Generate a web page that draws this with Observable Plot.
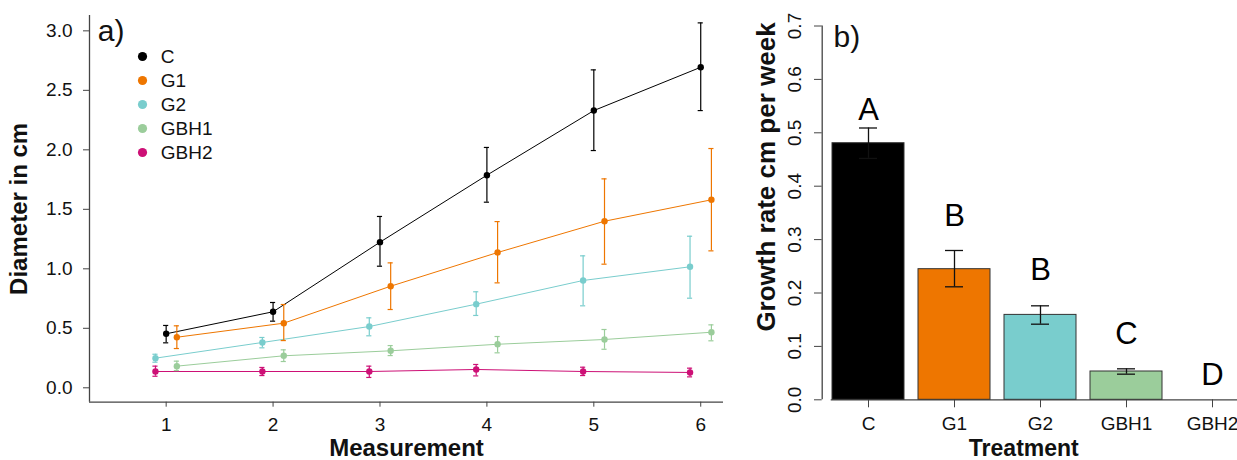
<!DOCTYPE html>
<html><head><meta charset="utf-8">
<script src="https://cdn.jsdelivr.net/npm/d3@7"></script>
<script src="https://cdn.jsdelivr.net/npm/@observablehq/plot@0.6"></script>
<style>
body{margin:0;background:#fff;}
#wrap{position:relative;width:1237px;height:460px;overflow:hidden;background:#fff;font-family:"Liberation Sans",Arial,sans-serif;}
#left{position:absolute;left:0;top:0;width:740px;}
#legend{position:absolute;left:136.7px;top:44.3px;width:150px;}
#right{position:absolute;left:740px;top:0;width:530px;}
svg{max-width:none !important;}
</style></head><body>
<div id="wrap"><div id="left"></div><div id="legend"></div><div id="right"></div></div>
<script>
// ---------- data: panel a) ----------
const measurement = [1, 2, 3, 4, 5, 6];
const series = ["C", "G1", "G2", "GBH1", "GBH2"];
const seriesColors = ["#000000", "#EE7600", "#79CDCD", "#9BCD9B", "#CD1076"];

const meanC    = [0.454, 0.639, 1.224, 1.787, 2.330, 2.694];
const loC      = [0.378, 0.560, 1.022, 1.560, 1.994, 2.330];
const hiC      = [0.524, 0.717, 1.440, 2.020, 2.672, 3.067];

const meanG1   = [0.425, 0.543, 0.854, 1.137, 1.400, 1.580];
const loG1     = [0.330, 0.397, 0.658, 0.882, 1.039, 1.151];
const hiG1     = [0.521, 0.700, 1.050, 1.397, 1.756, 2.011];

const meanG2   = [0.249, 0.381, 0.515, 0.703, 0.902, 1.017];
const loG2     = [0.215, 0.336, 0.437, 0.608, 0.689, 0.753];
const hiG2     = [0.282, 0.423, 0.588, 0.807, 1.109, 1.274];

const meanGBH1 = [0.182, 0.269, 0.311, 0.366, 0.406, 0.467];
const loGBH1   = [0.145, 0.221, 0.271, 0.294, 0.324, 0.395];
const hiGBH1   = [0.224, 0.319, 0.355, 0.431, 0.490, 0.529];

const meanGBH2 = [0.137, 0.137, 0.137, 0.154, 0.137, 0.129];
const loGBH2   = [0.097, 0.103, 0.087, 0.100, 0.103, 0.092];
const hiGBH2   = [0.182, 0.171, 0.182, 0.196, 0.173, 0.165];

const yTicksA = [0, 0.5, 1, 1.5, 2, 2.5, 3];

// ---------- data: panel b) ----------
const treatments = ["C", "G1", "G2", "GBH1", "GBH2"];
const barColors  = ["#000000", "#EE7600", "#79CDCD", "#9BCD9B", "#CD1076"];
const growth     = [0.4805, 0.2446, 0.159, 0.053, 0];
const growthLo   = [0.452, 0.2116, 0.1416, 0.048, 0];
const growthHi   = [0.509, 0.2796, 0.176, 0.058, 0];
const letters    = ["A", "B", "B", "C", "D"];
const letterY    = [0.524, 0.3264, 0.2247, 0.1049, 0.0268];
const yTicksB    = [0, 0.1, 0.2, 0.3, 0.4, 0.5, 0.6, 0.7];

// ---------- build tables ----------
const dodge = {C: 0, G1: 0.1, G2: -0.1, GBH1: 0.1, GBH2: -0.1};
const tables = {
  C: [meanC, loC, hiC], G1: [meanG1, loG1, hiG1], G2: [meanG2, loG2, hiG2],
  GBH1: [meanGBH1, loGBH1, hiGBH1], GBH2: [meanGBH2, loGBH2, hiGBH2]
};
const rows = series.flatMap(s => measurement.map((m, i) => ({
  series: s, x: m + dodge[s], mean: tables[s][0][i], lo: tables[s][1][i], hi: tables[s][2][i]
})));
const bars = treatments.map((t, i) => ({t, v: growth[i], lo: growthLo[i], hi: growthHi[i], letter: letters[i], ly: letterY[i]}));
const errBars = bars.filter(d => d.hi > d.lo);

const FONT = '"Liberation Sans", Arial, sans-serif';
const AX = "#444";
const cap = 0.024;
const baseStyle = {fontFamily: FONT, background: "transparent", overflow: "visible", color: "#111", maxWidth: "none"};

// ---------- panel a ----------
const xDom = [0.283, 6.213], yDom = [-0.121, 3.129];
const left = Plot.plot({
  width: 740, height: 460,
  marginLeft: 89, marginRight: 17, marginTop: 15, marginBottom: 58.3,
  x: {domain: xDom}, y: {domain: yDom},
  color: {domain: series, range: seriesColors},
  style: baseStyle,
  marks: [
    Plot.ruleX([xDom[0]], {stroke: AX, strokeWidth: 1.3}),
    Plot.ruleY([yDom[0]], {stroke: AX, strokeWidth: 1.3}),
    Plot.axisY({ticks: yTicksA, tickFormat: d3.format(".1f"), tickSize: 6, tickPadding: 11, fontSize: 19, label: null, stroke: AX}),
    Plot.axisX({ticks: measurement, tickFormat: d3.format("d"), tickSize: 5, tickPadding: 10, fontSize: 19, label: null, stroke: AX}),
    Plot.line(rows, {x: "x", y: "mean", z: "series", stroke: "series", strokeWidth: 1}),
    Plot.ruleX(rows, {x: "x", y1: "lo", y2: "hi", stroke: "series", strokeWidth: 1.2}),
    Plot.ruleY(rows, {y: "lo", x1: d => d.x - cap, x2: d => d.x + cap, stroke: "series", strokeWidth: 1.2}),
    Plot.ruleY(rows, {y: "hi", x1: d => d.x - cap, x2: d => d.x + cap, stroke: "series", strokeWidth: 1.2}),
    Plot.dot(rows, {x: "x", y: "mean", fill: "series", r: 3.2}),
    Plot.text(["a)"], {text: d => d, frameAnchor: "top-left", dx: 8.3, dy: 25.7, lineAnchor: "bottom", textAnchor: "start", fontSize: 30}),
    Plot.text(["Measurement"], {text: d => d, frameAnchor: "bottom", dy: 53.3, lineAnchor: "bottom", textAnchor: "middle", fontSize: 24, fontWeight: "bold"}),
    Plot.text(["Diameter in cm"], {text: d => d, frameAnchor: "left", dx: -70, rotate: -90, textAnchor: "middle", lineAnchor: "middle", fontSize: 24, fontWeight: "bold"})
  ]
});
document.getElementById("left").append(left);

// ---------- legend ----------
const legend = Plot.plot({
  width: 150, height: 130, marginLeft: 5, marginRight: 5, marginTop: 10, marginBottom: 21,
  y: {type: "point", domain: series, padding: 0, axis: null},
  color: {domain: series, range: seriesColors},
  style: baseStyle,
  marks: [
    Plot.dot(series, {y: d => d, fill: d => d, r: 4.6, frameAnchor: "left"}),
    Plot.text(series, {y: d => d, text: d => d, frameAnchor: "left", dx: 18.3, textAnchor: "start", fontSize: 19})
  ]
});
document.getElementById("legend").append(legend);

// ---------- panel b ----------
const RW = 530, RL = 81.7, RR = 11.1;
const right = Plot.plot({
  width: RW, height: 460,
  marginLeft: RL, marginRight: RR, marginTop: 25.5, marginBottom: 60.7,
  x: {domain: treatments, paddingInner: 0.163, paddingOuter: 0.123, align: 0.5},
  y: {domain: [0, 0.7]},
  color: {domain: treatments, range: barColors},
  style: baseStyle,
  marks: [
    Plot.ruleX([0], {x: null, dx: -(RW - RL - RR) / 2, y1: 0, y2: 0.7, stroke: AX, strokeWidth: 1.3}),
    Plot.ruleY([0], {insetLeft: 9, stroke: AX, strokeWidth: 1.2}),
    Plot.axisY({ticks: yTicksB, tickSize: 7.7, fill: "none", label: null, stroke: AX}),
    Plot.text(yTicksB, {y: d => d, text: d => d3.format(".1f")(d), frameAnchor: "left", dx: -27.7, rotate: -90, textAnchor: "middle", lineAnchor: "middle", fontSize: 19}),
    Plot.axisX({tickSize: 8, tickPadding: 9, fontSize: 19, label: null, stroke: AX}),
    Plot.barY(bars, {x: "t", y: "v", fill: "t", stroke: "#333", strokeWidth: 1}),
    Plot.ruleX(errBars, {x: "t", y1: "lo", y2: "hi", stroke: "#111", strokeWidth: 1.3}),
    Plot.tickY(errBars, {x: "t", y: "lo", insetLeft: 27, insetRight: 27, stroke: "#111", strokeWidth: 1.3}),
    Plot.tickY(errBars, {x: "t", y: "hi", insetLeft: 27, insetRight: 27, stroke: "#111", strokeWidth: 1.3}),
    Plot.text(bars, {x: "t", y: "ly", text: "letter", lineAnchor: "bottom", fontSize: 31, fill: "#000"}),
    Plot.text(["b)"], {text: d => d, frameAnchor: "top-left", dx: 11.3, dy: 21.2, lineAnchor: "bottom", textAnchor: "start", fontSize: 30}),
    Plot.text(["Treatment"], {text: d => d, frameAnchor: "bottom", dx: -17, dy: 56.5, lineAnchor: "bottom", textAnchor: "middle", fontSize: 23, fontWeight: "bold"}),
    Plot.text(["Growth rate cm per week"], {text: d => d, frameAnchor: "left", dx: -55.7, dy: -35.9, rotate: -90, textAnchor: "middle", lineAnchor: "middle", fontSize: 26, fontWeight: "bold"})
  ]
});
document.getElementById("right").append(right);
</script>
</body></html>
